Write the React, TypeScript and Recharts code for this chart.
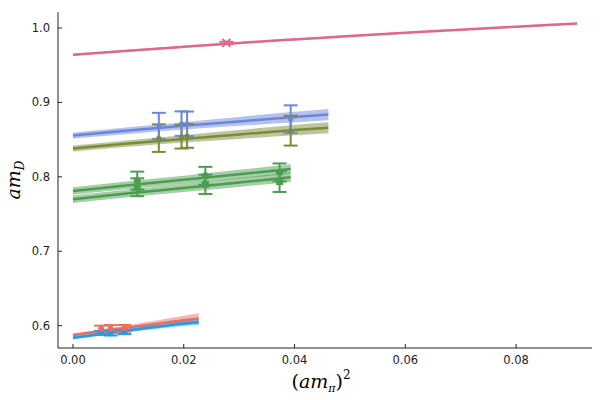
import React from 'react'
import { Area, ComposedChart, ErrorBar, Line, Scatter, XAxis, YAxis } from 'recharts'

// fit curves: x grid, central value, band half-width
const pinkX = [0, 0.01, 0.02, 0.03, 0.04, 0.05, 0.06, 0.07, 0.08, 0.091]
const pinkY = [0.964, 0.9695, 0.9748, 0.98, 0.9847, 0.9892, 0.9935, 0.9977, 1.0017, 1.006]
const pinkW = [0.0012, 0.0012, 0.0012, 0.0012, 0.0012, 0.0012, 0.0012, 0.0012, 0.0012, 0.0012]

const upperX = [0, 0.01, 0.02, 0.03, 0.04, 0.0461]
const blueY = [0.8555, 0.8622, 0.8685, 0.8745, 0.8803, 0.8837]
const blueW = [0.004, 0.0045, 0.005, 0.006, 0.007, 0.0075]
const oliveY = [0.838, 0.8448, 0.851, 0.857, 0.8628, 0.866]
const oliveW = [0.004, 0.0045, 0.005, 0.006, 0.007, 0.0075]

const greenX = [0, 0.01, 0.02, 0.03, 0.0393]
const greenHiY = [0.781, 0.7888, 0.796, 0.8035, 0.8105]
const greenLoY = [0.77, 0.7778, 0.785, 0.7925, 0.7996]
const greenW = [0.005, 0.0052, 0.0055, 0.006, 0.0065]

const lowX = [0, 0.01, 0.02, 0.0227]
const coralY = [0.5874, 0.5975, 0.6072, 0.6097]
const coralW = [0.002, 0.003, 0.006, 0.007]
const skyY = [0.5837, 0.5935, 0.603, 0.605]
const skyW = [0.002, 0.0025, 0.0035, 0.004]

// lattice points
const pinkPtX = [0.0277]
const pinkPtY = [0.98]
const pinkPtE = [0.0015]

const bluePtX = [0.0155, 0.0196, 0.0206, 0.0393]
const bluePtY = [0.8685, 0.8715, 0.8712, 0.8776]
const bluePtE = [0.0175, 0.0165, 0.0165, 0.0185]
const olivePtY = [0.852, 0.854, 0.855, 0.862]
const olivePtE = [0.0185, 0.016, 0.016, 0.02]

const greenPtX = [0.0116, 0.0239, 0.0373]
const greenCircY = [0.795, 0.8014, 0.806]
const greenCircE = [0.012, 0.012, 0.012]
const greenSqY = [0.786, 0.79, 0.7937]
const greenSqE = [0.012, 0.013, 0.014]

const lowPtX = [0.0051, 0.0068, 0.0093]
const coralPtY = [0.5955, 0.5958, 0.5965]
const coralPtE = [0.0045, 0.005, 0.0045]
const skyPtY = [0.5905, 0.5898, 0.5912]
const skyPtE = [0.0025, 0.003, 0.0025]

const xTicks = [0, 0.02, 0.04, 0.06, 0.08]
const yTicks = [0.6, 0.7, 0.8, 0.9, 1.0]

const PINK = '#e0668a'
const BLUE = '#6c86dc'
const OLIVE = '#7a8b3a'
const GREEN = '#4b9e50'
const CORAL = '#e36f62'
const SKY = '#1f9de6'

const curve = (xs: number[], ys: number[], ws: number[]) =>
    xs.map((x, i) => ({ x, y: ys[i], band: [ys[i] - ws[i], ys[i] + ws[i]] }))

const points = (xs: number[], ys: number[], es: number[]) =>
    xs.map((x, i) => ({ x, y: ys[i], e: es[i] }))

const fits = [
    { key: 'pink', data: curve(pinkX, pinkY, pinkW), color: PINK },
    { key: 'blue', data: curve(upperX, blueY, blueW), color: BLUE },
    { key: 'olive', data: curve(upperX, oliveY, oliveW), color: OLIVE },
    { key: 'ghi', data: curve(greenX, greenHiY, greenW), color: GREEN },
    { key: 'glo', data: curve(greenX, greenLoY, greenW), color: GREEN },
    { key: 'coral', data: curve(lowX, coralY, coralW), color: CORAL },
    { key: 'sky', data: curve(lowX, skyY, skyW), color: SKY },
]

const Dot = (r: number, color: string) => (p: any) =>
    <circle cx={p.cx} cy={p.cy} r={r} fill={color} />

const Square = (s: number, color: string) => (p: any) =>
    <rect x={p.cx - s} y={p.cy - s} width={2 * s} height={2 * s} fill={color} />

const Cross = (color: string) => (p: any) => (
    <g stroke={color} strokeWidth={2}>
        <line x1={p.cx - 4} y1={p.cy - 4} x2={p.cx + 4} y2={p.cy + 4} />
        <line x1={p.cx - 4} y1={p.cy + 4} x2={p.cx + 4} y2={p.cy - 4} />
    </g>
)

const sets = [
    { key: 'pp', data: points(pinkPtX, pinkPtY, pinkPtE), color: PINK, shape: Cross(PINK) },
    { key: 'op', data: points(bluePtX, olivePtY, olivePtE), color: OLIVE, shape: Dot(2.5, OLIVE) },
    { key: 'bp', data: points(bluePtX, bluePtY, bluePtE), color: BLUE, shape: Dot(2.5, BLUE) },
    { key: 'gs', data: points(greenPtX, greenSqY, greenSqE), color: GREEN, shape: Square(3.5, GREEN) },
    { key: 'gc', data: points(greenPtX, greenCircY, greenCircE), color: GREEN, shape: Dot(3.5, GREEN) },
    { key: 'sp', data: points(lowPtX, skyPtY, skyPtE), color: SKY, shape: Dot(3, SKY) },
    { key: 'cp', data: points(lowPtX, coralPtY, coralPtE), color: CORAL, shape: Dot(3, CORAL) },
]

const tickFont = { fontFamily: 'DejaVu Sans', fontSize: 11.5, fill: '#222' }
const mathFont = { fontFamily: 'DejaVu Serif', fontSize: 19, fill: '#000' }

const XTick = ({ x, y, payload }: any) => (
    <g>
        <line x1={x} y1={y - 6} x2={x} y2={y - 10} stroke="#222" />
        <text x={x} y={y + 10} textAnchor="middle" {...tickFont}>
            {payload.value.toFixed(2)}
        </text>
    </g>
)

const YTick = ({ x, y, payload }: any) => (
    <g>
        <line x1={x + 8} y1={y} x2={x + 12} y2={y} stroke="#222" />
        <text x={x} y={y + 4} textAnchor="end" {...tickFont}>
            {payload.value.toFixed(1)}
        </text>
    </g>
)

const XLabel = ({ viewBox }: any) => (
    <text x={viewBox.x + viewBox.width / 2 - 4} y={388} textAnchor="middle" {...mathFont}>
        (<tspan fontStyle="italic">am</tspan>
        <tspan fontStyle="italic" fontSize={11} dy={4}>π</tspan>
        <tspan dy={-4}>)</tspan>
        <tspan fontSize={12} dy={-9}>2</tspan>
    </text>
)

const YLabel = ({ viewBox }: any) => {
    const cy = viewBox.y + viewBox.height / 2
    return (
        <text x={20} y={cy} transform={`rotate(-90 20 ${cy})`} textAnchor="middle" {...mathFont}>
            <tspan fontStyle="italic">am</tspan>
            <tspan fontStyle="italic" fontSize={12} dy={4}>D</tspan>
        </text>
    )
}

export default function App() {
    return (
        <div style={{ position: 'absolute', left: 0, top: 0, background: '#fff' }}>
            <ComposedChart width={600} height={400} margin={{ top: 12, right: 8, bottom: 0, left: 0 }}>
                <XAxis
                    dataKey="x"
                    type="number"
                    domain={[-0.0027, 0.0937]}
                    ticks={xTicks}
                    allowDataOverflow
                    height={52}
                    tickLine={false}
                    tickSize={0}
                    tickMargin={6}
                    tick={<XTick />}
                    stroke="#222"
                    label={<XLabel />}
                />
                <YAxis
                    type="number"
                    domain={[0.57, 1.0215]}
                    ticks={yTicks}
                    allowDataOverflow
                    width={58}
                    tickLine={false}
                    tickSize={0}
                    tickMargin={8}
                    tick={<YTick />}
                    stroke="#222"
                    label={<YLabel />}
                />
                {fits.map((f) => (
                    <Area
                        key={f.key + 'band'}
                        data={f.data}
                        dataKey="band"
                        type="monotone"
                        stroke="none"
                        fill={f.color}
                        fillOpacity={0.5}
                        isAnimationActive={false}
                    />
                ))}
                {fits.map((f) => (
                    <Line
                        key={f.key}
                        data={f.data}
                        dataKey="y"
                        type="monotone"
                        stroke={f.color}
                        strokeWidth={2.5}
                        dot={false}
                        isAnimationActive={false}
                    />
                ))}
                {sets.map((s) => (
                    <Scatter key={s.key} data={s.data} dataKey="y" shape={s.shape} isAnimationActive={false}>
                        <ErrorBar dataKey="e" direction="y" width={7} stroke={s.color} strokeWidth={2} />
                    </Scatter>
                ))}
            </ComposedChart>
        </div>
    )
}
